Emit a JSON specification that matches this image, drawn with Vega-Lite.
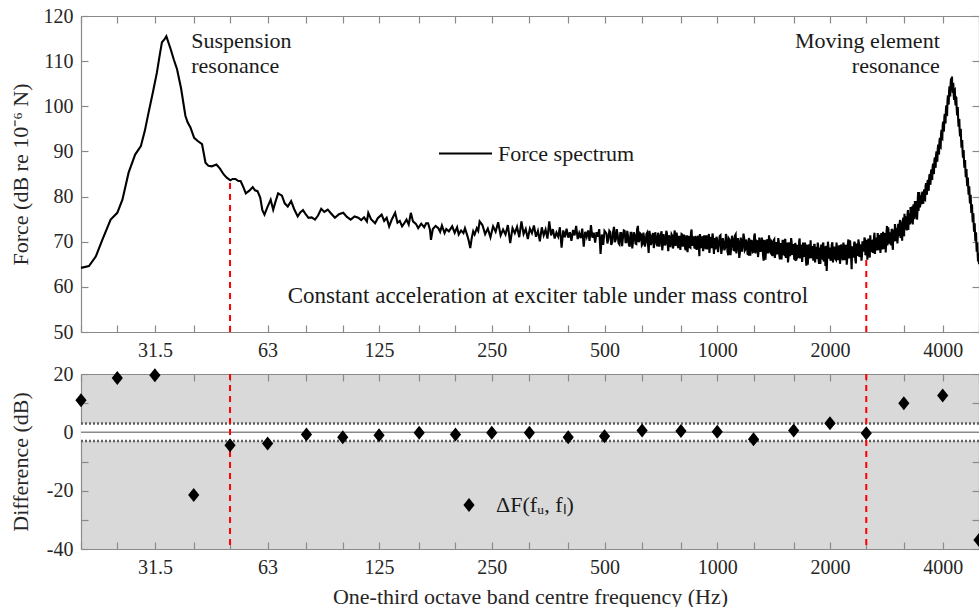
{
  "$schema": "https://vega.github.io/schema/vega-lite/v6.json",
  "padding": {"left": 9, "top": 6, "right": 0, "bottom": 0},
  "spacing": 4,
  "config": {
    "font": "Liberation Serif",
    "view": {"stroke": null},
    "axis": {
      "grid": false,
      "domainColor": "#8a8a8a",
      "tickColor": "#8a8a8a",
      "domainWidth": 1.2,
      "tickWidth": 1.2,
      "tickSize": -7,
      "labelPadding": 15,
      "labelFont": "Liberation Serif",
      "labelFontSize": 20,
      "labelColor": "#262626",
      "titleFont": "Liberation Serif",
      "titleFontSize": 22,
      "titleFontWeight": "normal",
      "titleColor": "#262626",
      "labelOverlap": false,
      "labelBound": false,
      "labelFlush": false
    },
    "legend": {
      "labelFont": "Liberation Serif",
      "labelFontSize": 22,
      "labelColor": "#1a1a1a",
      "padding": 0
    },
    "text": {"font": "Liberation Serif", "fontSize": 22, "color": "#1a1a1a"}
  },
  "datasets": {
    "force": [
      {"f":20,"v":64.2},{"f":21,"v":64.6},{"f":21.9,"v":66.7},{"f":22.8,"v":70.4},{"f":24,"v":74.9},{"f":25,"v":76.4},{"f":25.8,"v":79.3},{"f":26.8,"v":85.3},{"f":27.9,"v":89.3},{"f":28.9,"v":91.2},{"f":29.6,"v":94.5},{"f":30.3,"v":98.6},{"f":31.1,"v":103},{"f":31.9,"v":107.5},{"f":32.4,"v":111},{"f":32.9,"v":114.2},{"f":33.4,"v":114.8},{"f":33.8,"v":115.5},{"f":34.7,"v":112.7},{"f":35.4,"v":110.3},{"f":36.1,"v":108.2},{"f":37,"v":104},{"f":38,"v":97.9},{"f":38.5,"v":96.5},{"f":39.2,"v":95.3},{"f":40.1,"v":93},{"f":41,"v":92.3},{"f":42.1,"v":91.6},{"f":43,"v":87.5},{"f":43.8,"v":86.8},{"f":44.7,"v":86.7},{"f":45.3,"v":86.9},{"f":46,"v":87.1},{"f":47,"v":86.2},{"f":48.1,"v":84.9},{"f":49,"v":84.2},{"f":50.1,"v":83.6},{"f":50.8,"v":83.9},{"f":51.7,"v":83.9},{"f":52.5,"v":83.5},{"f":53.4,"v":83.4},{"f":54.2,"v":82.2},{"f":55.1,"v":80.7},{"f":56.3,"v":81.3},{"f":57.5,"v":82.1},{"f":58.3,"v":81.4},{"f":59.2,"v":81.2},{"f":60.2,"v":79.8},{"f":61,"v":77},{"f":61.8,"v":76},{"f":62.8,"v":77.5},{"f":64.2,"v":79.3},{"f":65.2,"v":77.1},{"f":66.2,"v":79},{"f":67.2,"v":80.7},{"f":68.8,"v":80.2},{"f":70,"v":78.5},{"f":71.3,"v":77.8},{"f":72.8,"v":79},{"f":74.2,"v":77.2},{"f":75.8,"v":75.6},{"f":77,"v":76.5},{"f":78.3,"v":77},{"f":79.6,"v":76.1},{"f":81,"v":75.3},{"f":82.6,"v":75.4},{"f":84.3,"v":74.9},{"f":85.9,"v":75.8},{"f":87.6,"v":77.3},{"f":89.3,"v":76.6},{"f":91.2,"v":77.1},{"f":93.2,"v":76.2},{"f":95.3,"v":75.3},{"f":97.7,"v":76.1},{"f":100.3,"v":76.4},{"f":102.6,"v":75.5},{"f":105,"v":74.9},{"f":107.5,"v":75.6},{"f":110,"v":75.3},{"f":112,"v":74.8},{"f":114,"v":75.4},{"f":116,"v":74.5},{"f":117,"v":76.4},{"f":119,"v":75},{"f":122,"v":74.1},{"f":124,"v":75.2},{"f":127,"v":76},{"f":129,"v":74.6},{"f":131,"v":75.3},{"f":133,"v":73.4},{"f":135,"v":74.8},{"f":138,"v":76.4},{"f":140,"v":74.2},{"f":142,"v":74.6},{"f":144,"v":73.4},{"f":146,"v":74.1},{"f":148,"v":74.9},{"f":150,"v":73.8},{"f":152,"v":76.4},{"f":154,"v":74.5},{"f":157,"v":73.9},{"f":159,"v":73},{"f":162,"v":74},{"f":165,"v":73.2},{"f":167,"v":74.1},{"f":169,"v":74.1},{"f":171,"v":72.6},{"f":172,"v":70.4},{"f":174,"v":72.8},{"f":177,"v":73.5},{"f":180,"v":73},{"f":182,"v":72.2},{"f":184,"v":73.6},{"f":187,"v":71.9},{"f":189,"v":72.8},{"f":192,"v":72.3},{"f":196,"v":73.4},{"f":199,"v":72},{"f":202,"v":73.2},{"f":204,"v":71.6},{"f":207,"v":72.5},{"f":210,"v":71.9},{"f":212,"v":73},{"f":215,"v":71.4},{"f":217,"v":70.2},{"f":219,"v":68.6},{"f":221,"v":70.8},{"f":223,"v":72.3},{"f":225,"v":71.6},{"f":228,"v":73},{"f":230,"v":72.4},{"f":232,"v":74.5},
      {"f":236,"v":73.7},{"f":240,"v":71.7},{"f":244,"v":72.9},{"f":248,"v":71},{"f":252,"v":73.4},{"f":256,"v":72.2},{"f":260,"v":74.3},{"f":264,"v":71.4},{"f":268,"v":72.7},{"f":272,"v":71.6},{"f":276,"v":73.7},{"f":280,"v":69.7},{"f":284,"v":73},{"f":288,"v":71.9},{"f":292,"v":73.3},{"f":296,"v":71},{"f":300,"v":74.5},{"f":304,"v":71.7},{"f":308,"v":72.8},{"f":312,"v":70.6},{"f":316,"v":72.9},{"f":320,"v":71.9},{"f":324,"v":73.6},{"f":328,"v":71.1},{"f":332,"v":72.4},{"f":336,"v":70.1},{"f":340,"v":73.2},{"f":344,"v":71.4},{"f":348,"v":72.7},{"f":352,"v":70.7},{"f":356,"v":74.5},{"f":360,"v":71.4},{"f":364,"v":72.8},{"f":368,"v":70.7},{"f":372,"v":72},{"f":376,"v":71.1},{"f":380,"v":73.2},{"f":384,"v":68.7},{"f":388,"v":72.5},{"f":392,"v":71},{"f":396,"v":72.9},{"f":400,"v":70.9},{"f":404,"v":72.1},{"f":408,"v":70.2},{"f":412,"v":72.6},{"f":416,"v":71.4},{"f":420,"v":73.5},{"f":424,"v":70.6},{"f":428,"v":71.9},{"f":432,"v":70.8},{"f":436,"v":72.9},{"f":440,"v":68.9},{"f":444,"v":72.2},{"f":448,"v":71.1},{"f":452,"v":72.5},{"f":456,"v":70.2},{"f":460,"v":73.7},{"f":464,"v":70.9},{"f":468,"v":72},{"f":472,"v":69.8},{"f":476,"v":72.1},{"f":480,"v":71.1},{"f":484,"v":72.8},{"f":488,"v":67.3},{"f":492,"v":71.6},{"f":496,"v":69.3},{"f":500,"v":72.4},
      {"f":506,"v":71.8},{"f":512,"v":70.7},{"f":518,"v":72.1},{"f":524,"v":69.8},{"f":530,"v":73.3},{"f":536,"v":70.5},{"f":542,"v":71.6},{"f":548,"v":69.4},{"f":554,"v":71.9},{"f":560,"v":70.9},{"f":566,"v":72.4},{"f":572,"v":69.9},{"f":578,"v":71.2},{"f":584,"v":68.9},{"f":590,"v":72},{"f":596,"v":70.2},{"f":602,"v":71.5},{"f":608,"v":69.5},{"f":614,"v":73.5},{"f":620,"v":70.4},{"f":626,"v":71.6},{"f":632,"v":69.5},{"f":638,"v":70.8},{"f":644,"v":69.9},{"f":650,"v":72},{"f":656,"v":67.5},{"f":662,"v":71.3},{"f":668,"v":69.8},{"f":674,"v":71.9},{"f":680,"v":69.9},{"f":686,"v":70.9},{"f":692,"v":69},{"f":698,"v":71.4},{"f":704,"v":70.2},{"f":710,"v":72.3},{"f":716,"v":69.4},{"f":722,"v":70.7},{"f":728,"v":69.6},{"f":734,"v":71.9},{"f":740,"v":67.9},{"f":746,"v":71},{"f":752,"v":69.9},{"f":758,"v":71.3},{"f":764,"v":69},{"f":770,"v":72.5},{"f":776,"v":69.7},{"f":782,"v":70.8},{"f":788,"v":68.6},{"f":794,"v":71.1},{"f":800,"v":70.1},{"f":806,"v":71.6},{"f":812,"v":69.1},{"f":818,"v":70.4},{"f":824,"v":68.1},{"f":830,"v":71.2},{"f":836,"v":69.4},{"f":842,"v":70.7},{"f":848,"v":68.7},{"f":854,"v":72.7},{"f":860,"v":69.6},{"f":866,"v":70.9},{"f":872,"v":68.8},{"f":878,"v":70.1},{"f":884,"v":69.2},{"f":890,"v":71.3},{"f":896,"v":66.8},{"f":902,"v":70.6},{"f":908,"v":69.1},{"f":914,"v":71.2},{"f":920,"v":69.2},{"f":926,"v":70.3},{"f":932,"v":68.4},{"f":938,"v":70.8},{"f":944,"v":69.6},{"f":950,"v":71.7},{"f":956,"v":68.8},{"f":962,"v":70.1},{"f":968,"v":69},{"f":974,"v":71.3},{"f":980,"v":67.3},{"f":986,"v":70.5},{"f":992,"v":69.4},{"f":998,"v":70.8},
      {"f":1010,"v":69.3},{"f":1020,"v":71.4},{"f":1030,"v":68.5},{"f":1040,"v":69.8},{"f":1050,"v":68.7},{"f":1060,"v":71},{"f":1070,"v":67},{"f":1080,"v":70.3},{"f":1090,"v":69.2},{"f":1100,"v":70.6},{"f":1110,"v":68.1},{"f":1120,"v":71.6},{"f":1130,"v":68.8},{"f":1140,"v":69.9},{"f":1150,"v":67.7},{"f":1160,"v":70.2},{"f":1170,"v":69.2},{"f":1180,"v":70.9},{"f":1190,"v":68.4},{"f":1200,"v":69.7},{"f":1210,"v":67.2},{"f":1220,"v":70.3},{"f":1230,"v":68.5},{"f":1240,"v":69.8},{"f":1250,"v":67.8},{"f":1260,"v":71.8},{"f":1270,"v":68.7},{"f":1280,"v":70.1},{"f":1290,"v":68},{"f":1300,"v":69.3},{"f":1310,"v":68.2},{"f":1320,"v":70.3},{"f":1330,"v":65.8},{"f":1340,"v":69.6},{"f":1350,"v":68.1},{"f":1360,"v":70.2},{"f":1370,"v":68.2},{"f":1380,"v":69.4},{"f":1390,"v":67.5},{"f":1400,"v":69.9},{"f":1410,"v":68.4},{"f":1420,"v":70.5},{"f":1430,"v":67.6},{"f":1440,"v":68.9},{"f":1450,"v":67.8},{"f":1460,"v":70.1},{"f":1470,"v":66.1},{"f":1480,"v":69.4},{"f":1490,"v":68.3},{"f":1500,"v":69.7},{"f":1510,"v":67.1},{"f":1520,"v":70.6},{"f":1530,"v":67.8},{"f":1540,"v":68.9},{"f":1550,"v":66.7},{"f":1560,"v":69.2},{"f":1570,"v":68.2},{"f":1580,"v":69.9},{"f":1590,"v":67.4},{"f":1600,"v":68.7},{"f":1610,"v":66.1},{"f":1620,"v":69.2},{"f":1630,"v":67.4},{"f":1640,"v":68.7},{"f":1650,"v":66.7},{"f":1660,"v":70.7},{"f":1670,"v":67.6},{"f":1680,"v":69},{"f":1690,"v":66.9},{"f":1700,"v":68.2},{"f":1710,"v":67.1},{"f":1720,"v":69.2},{"f":1730,"v":64.7},{"f":1740,"v":68.5},{"f":1750,"v":67},{"f":1760,"v":69.1},{"f":1770,"v":67.1},{"f":1780,"v":68.3},{"f":1790,"v":66.4},{"f":1800,"v":68.8},{"f":1810,"v":67.4},{"f":1820,"v":69.5},{"f":1830,"v":66.6},{"f":1840,"v":67.9},{"f":1850,"v":66.8},{"f":1860,"v":69.1},{"f":1870,"v":65.1},{"f":1880,"v":68.4},{"f":1890,"v":67.3},{"f":1900,"v":68.7},{"f":1910,"v":66.3},{"f":1920,"v":69.8},{"f":1930,"v":67},{"f":1940,"v":68.1},{"f":1950,"v":65.9},{"f":1960,"v":63.5},{"f":1970,"v":67.4},{"f":1980,"v":69.1},{"f":1990,"v":66.6},{"f":2000,"v":67.9},
      {"f":2015,"v":66.4},{"f":2030,"v":69.9},{"f":2045,"v":67.1},{"f":2060,"v":68.2},{"f":2075,"v":66},{"f":2090,"v":68.5},{"f":2105,"v":67.5},{"f":2120,"v":69.2},{"f":2135,"v":66.7},{"f":2150,"v":68},{"f":2165,"v":65.9},{"f":2180,"v":69},{"f":2195,"v":67.2},{"f":2210,"v":68.5},{"f":2225,"v":66.5},{"f":2240,"v":70.5},{"f":2255,"v":67.4},{"f":2270,"v":68.8},{"f":2285,"v":63.9},{"f":2300,"v":68},{"f":2315,"v":67.6},{"f":2330,"v":69.7},{"f":2345,"v":65.2},{"f":2360,"v":69},{"f":2375,"v":67.5},{"f":2390,"v":69.6},{"f":2405,"v":67.6},{"f":2420,"v":68.8},{"f":2435,"v":66.9},{"f":2450,"v":69.3},{"f":2465,"v":68.4},{"f":2480,"v":70.6},{"f":2495,"v":67.7},{"f":2510,"v":69.1},{"f":2525,"v":68.2},{"f":2540,"v":70.5},{"f":2555,"v":66.5},{"f":2570,"v":69.9},{"f":2585,"v":68.8},{"f":2600,"v":70.2},{"f":2615,"v":68.3},{"f":2630,"v":72},{"f":2645,"v":69.2},{"f":2660,"v":70.4},{"f":2675,"v":68.3},{"f":2690,"v":70.7},{"f":2705,"v":69.8},{"f":2720,"v":71.5},{"f":2735,"v":69},{"f":2750,"v":70.4},{"f":2765,"v":68.3},{"f":2780,"v":71.5},{"f":2795,"v":69.8},{"f":2810,"v":71.2},{"f":2825,"v":69.4},{"f":2840,"v":73.5},{"f":2855,"v":70.4},{"f":2870,"v":71.8},{"f":2885,"v":69.8},{"f":2900,"v":71.1},{"f":2915,"v":70.4},{"f":2930,"v":72.6},{"f":2945,"v":68.2},{"f":2960,"v":72.1},{"f":2975,"v":71},{"f":2990,"v":73.3},{"f":3005,"v":71.5},{"f":3020,"v":72.7},{"f":3035,"v":70.9},{"f":3050,"v":73},{"f":3065,"v":72.5},{"f":3080,"v":74.8},{"f":3095,"v":72},{"f":3110,"v":73.5},{"f":3125,"v":72.7},{"f":3140,"v":75.3},{"f":3155,"v":71.2},{"f":3170,"v":74.7},{"f":3185,"v":73.7},{"f":3200,"v":75.2},{"f":3215,"v":73.3},{"f":3230,"v":77},{"f":3245,"v":74.6},{"f":3260,"v":76},{"f":3275,"v":74.2},{"f":3290,"v":76.8},{"f":3305,"v":75.9},{"f":3320,"v":77.8},{"f":3335,"v":75.6},{"f":3350,"v":77.2},{"f":3365,"v":75},{"f":3380,"v":78.4},{"f":3395,"v":76.9},{"f":3410,"v":78.4},{"f":3425,"v":76.9},{"f":3440,"v":81},{"f":3455,"v":78},{"f":3470,"v":79.6},{"f":3485,"v":78},{"f":3500,"v":79.3},
      {"f":3520,"v":80.4},{"f":3540,"v":79},{"f":3560,"v":80.9},{"f":3580,"v":79.4},{"f":3600,"v":82.3},{"f":3620,"v":80.9},{"f":3640,"v":83},{"f":3660,"v":81.6},{"f":3680,"v":84.1},{"f":3700,"v":83},{"f":3720,"v":85.3},{"f":3740,"v":83.9},{"f":3760,"v":86.6},{"f":3780,"v":85.2},{"f":3800,"v":87.9},{"f":3820,"v":86.7},{"f":3840,"v":89.2},{"f":3860,"v":88},{"f":3880,"v":90.6},{"f":3900,"v":89.6},{"f":3920,"v":92.2},{"f":3940,"v":91},{"f":3960,"v":93.9},{"f":3980,"v":92.9},{"f":4000,"v":95.8},{"f":4020,"v":94.6},{"f":4040,"v":97.4},{"f":4060,"v":96.4},{"f":4080,"v":99.2},{"f":4100,"v":98.4},{"f":4120,"v":101.3},{"f":4140,"v":100.6},{"f":4160,"v":103.4},{"f":4180,"v":102.5},{"f":4200,"v":105},{"f":4220,"v":104.6},{"f":4235,"v":106.6},{"f":4250,"v":103.5},{"f":4265,"v":105.2},{"f":4280,"v":102.4},{"f":4300,"v":103.6},{"f":4320,"v":101},{"f":4340,"v":102},{"f":4360,"v":99.3},{"f":4380,"v":99.6},{"f":4400,"v":96.8},{"f":4420,"v":97},{"f":4440,"v":94.4},{"f":4460,"v":94.6},{"f":4480,"v":92.3},{"f":4500,"v":92.2},{"f":4520,"v":89.9},{"f":4540,"v":90},{"f":4560,"v":87.8},{"f":4580,"v":87.8},{"f":4600,"v":85.6},{"f":4620,"v":85.8},{"f":4640,"v":83.6},{"f":4660,"v":83.9},{"f":4680,"v":81.7},{"f":4700,"v":82},{"f":4720,"v":79.8},{"f":4740,"v":80.1},{"f":4760,"v":77.9},{"f":4780,"v":78},{"f":4800,"v":75.8},{"f":4820,"v":75.9},{"f":4840,"v":73.8},{"f":4860,"v":73.8},{"f":4880,"v":71.6},{"f":4900,"v":71.7},{"f":4920,"v":69.5},{"f":4940,"v":69.4},{"f":4960,"v":67.2},{"f":4980,"v":67},{"f":5000,"v":65},
      {"f":509,"v":69.6},{"f":515,"v":72.4},{"f":521,"v":69.3},{"f":527,"v":72.1},{"f":533,"v":69.9},{"f":539,"v":72.8},{"f":545,"v":69.7},{"f":551,"v":71.9},{"f":557,"v":69},{"f":563,"v":72.5},
      {"f":569,"v":69.9},{"f":575,"v":72.4},{"f":581,"v":69.3},{"f":587,"v":72},{"f":593,"v":68.5},{"f":599,"v":72.1},{"f":605,"v":69.6},{"f":611,"v":72.8},{"f":617,"v":69.9},{"f":623,"v":71.8},
      {"f":629,"v":69.2},{"f":635,"v":72},{"f":641,"v":68.9},{"f":647,"v":71.7},{"f":653,"v":69.5},{"f":659,"v":72.4},{"f":665,"v":69.3},{"f":671,"v":71.5},{"f":677,"v":68.6},{"f":683,"v":72.1},
      {"f":689,"v":69.5},{"f":695,"v":72},{"f":701,"v":68.9},{"f":707,"v":71.6},{"f":713,"v":68.1},{"f":719,"v":71.7},{"f":725,"v":69.2},{"f":731,"v":72.4},{"f":737,"v":69.5},{"f":743,"v":71.4},
      {"f":749,"v":68.8},{"f":755,"v":71.6},{"f":761,"v":68.5},{"f":767,"v":71.3},{"f":773,"v":69.1},{"f":779,"v":72},{"f":785,"v":68.9},{"f":791,"v":71.1},{"f":797,"v":68.2},{"f":803,"v":71.7},
      {"f":809,"v":69.1},{"f":815,"v":71.6},{"f":821,"v":68.5},{"f":827,"v":71.2},{"f":833,"v":67.7},{"f":839,"v":71.3},{"f":845,"v":68.8},{"f":851,"v":72},{"f":857,"v":69.1},{"f":863,"v":71},
      {"f":869,"v":68.5},{"f":875,"v":71.3},{"f":881,"v":68.2},{"f":887,"v":71},{"f":893,"v":68.8},{"f":899,"v":71.7},{"f":905,"v":68.6},{"f":911,"v":70.8},{"f":917,"v":67.9},{"f":923,"v":71.4},
      {"f":929,"v":68.9},{"f":935,"v":71.4},{"f":941,"v":68.3},{"f":947,"v":71},{"f":953,"v":67.5},{"f":959,"v":71.1},{"f":965,"v":68.6},{"f":971,"v":71.8},{"f":977,"v":68.9},{"f":983,"v":70.8},{"f":989,"v":68.3},{"f":995,"v":71.1},
      {"f":1005,"v":67.7},{"f":1015,"v":71.2},{"f":1025,"v":67.3},{"f":1035,"v":70.8},{"f":1045,"v":68.1},{"f":1055,"v":71.7},{"f":1065,"v":67.8},{"f":1075,"v":70.6},{"f":1085,"v":67},{"f":1095,"v":71.3},
      {"f":1105,"v":68.2},{"f":1115,"v":71.3},{"f":1125,"v":67.4},{"f":1135,"v":70.8},{"f":1145,"v":66.4},{"f":1155,"v":70.9},{"f":1165,"v":67.8},{"f":1175,"v":71.8},{"f":1185,"v":68.1},{"f":1195,"v":70.5},
      {"f":1205,"v":67.3},{"f":1215,"v":70.8},{"f":1225,"v":66.9},{"f":1235,"v":70.4},{"f":1245,"v":67.7},{"f":1255,"v":71.3},{"f":1265,"v":67.4},{"f":1275,"v":70.2},{"f":1285,"v":66.6},{"f":1295,"v":70.9},
      {"f":1305,"v":67.8},{"f":1315,"v":70.9},{"f":1325,"v":67},{"f":1335,"v":70.4},{"f":1345,"v":66},{"f":1355,"v":70.5},{"f":1365,"v":67.4},{"f":1375,"v":71.4},{"f":1385,"v":67.7},{"f":1395,"v":70.1},
      {"f":1405,"v":66.8},{"f":1415,"v":70.3},{"f":1425,"v":66.4},{"f":1435,"v":69.9},{"f":1445,"v":67.2},{"f":1455,"v":70.8},{"f":1465,"v":66.9},{"f":1475,"v":69.7},{"f":1485,"v":66.1},{"f":1495,"v":70.4},
      {"f":1505,"v":67.2},{"f":1515,"v":70.3},{"f":1525,"v":66.4},{"f":1535,"v":69.8},{"f":1545,"v":65.4},{"f":1555,"v":69.9},{"f":1565,"v":66.8},{"f":1575,"v":70.8},{"f":1585,"v":67.1},{"f":1595,"v":69.5},
      {"f":1605,"v":66.2},{"f":1615,"v":69.7},{"f":1625,"v":65.8},{"f":1635,"v":69.3},{"f":1645,"v":66.6},{"f":1655,"v":70.2},{"f":1665,"v":66.3},{"f":1675,"v":69.1},{"f":1685,"v":65.5},{"f":1695,"v":69.8},
      {"f":1705,"v":66.7},{"f":1715,"v":69.8},{"f":1725,"v":65.9},{"f":1735,"v":69.3},{"f":1745,"v":64.9},{"f":1755,"v":69.4},{"f":1765,"v":66.3},{"f":1775,"v":70.3},{"f":1785,"v":66.6},{"f":1795,"v":69},
      {"f":1805,"v":65.8},{"f":1815,"v":69.3},{"f":1825,"v":65.4},{"f":1835,"v":68.9},{"f":1845,"v":66.2},{"f":1855,"v":69.8},{"f":1865,"v":65.9},{"f":1875,"v":68.7},{"f":1885,"v":65.1},{"f":1895,"v":69.4},
      {"f":1905,"v":66.4},{"f":1915,"v":69.5},{"f":1925,"v":65.6},{"f":1935,"v":69},{"f":1945,"v":64.6},{"f":1955,"v":69.1},{"f":1965,"v":66},{"f":1975,"v":70},{"f":1985,"v":66.3},{"f":1995,"v":68.7},
      {"f":2007,"v":65.8},{"f":2022,"v":69.3},{"f":2037,"v":65.4},{"f":2052,"v":68.9},{"f":2067,"v":66.2},{"f":2082,"v":69.8},{"f":2097,"v":65.9},{"f":2112,"v":68.7},{"f":2127,"v":65.1},{"f":2142,"v":69.4},
      {"f":2157,"v":66.7},{"f":2172,"v":69.8},{"f":2187,"v":65.9},{"f":2202,"v":69.3},{"f":2217,"v":64.9},{"f":2232,"v":69.4},{"f":2247,"v":66.3},{"f":2262,"v":70.3},{"f":2277,"v":66.6},{"f":2292,"v":69},
      {"f":2307,"v":66.5},{"f":2322,"v":70},{"f":2337,"v":66.1},{"f":2352,"v":69.6},{"f":2367,"v":66.9},{"f":2382,"v":70.5},{"f":2397,"v":66.6},{"f":2412,"v":69.4},{"f":2427,"v":65.8},{"f":2442,"v":70.1},
      {"f":2457,"v":67.8},{"f":2472,"v":70.9},{"f":2487,"v":67},{"f":2502,"v":70.4},{"f":2517,"v":66},{"f":2532,"v":70.5},{"f":2547,"v":67.4},{"f":2562,"v":71.4},{"f":2577,"v":67.7},{"f":2592,"v":70.1},
      {"f":2607,"v":67.5},{"f":2622,"v":71.1},{"f":2637,"v":67.3},{"f":2652,"v":70.9},{"f":2667,"v":68.3},{"f":2682,"v":71.9},{"f":2697,"v":68.1},{"f":2712,"v":71},{"f":2727,"v":67.5},{"f":2742,"v":71.9},
      {"f":2757,"v":69},{"f":2772,"v":72.2},{"f":2787,"v":68.4},{"f":2802,"v":71.9},{"f":2817,"v":67.6},{"f":2832,"v":72.2},{"f":2847,"v":69.2},{"f":2862,"v":73.2},{"f":2877,"v":69.6},{"f":2892,"v":72.1},
      {"f":2907,"v":69.2},{"f":2922,"v":72.8},{"f":2937,"v":69.1},{"f":2952,"v":72.7},{"f":2967,"v":70.1},{"f":2982,"v":73.9},{"f":2997,"v":70.1},{"f":3012,"v":73},{"f":3027,"v":69.6},{"f":3042,"v":74},
      {"f":3057,"v":71.2},{"f":3072,"v":74.5},{"f":3087,"v":70.8},{"f":3102,"v":74.4},{"f":3117,"v":70.2},{"f":3132,"v":74.9},{"f":3147,"v":72},{"f":3162,"v":76.2},{"f":3177,"v":72.7},{"f":3192,"v":75.3},
      {"f":3207,"v":72.5},{"f":3222,"v":76.2},{"f":3237,"v":72.6},{"f":3252,"v":76.3},{"f":3267,"v":73.9},{"f":3282,"v":77.7},{"f":3297,"v":74.1},{"f":3312,"v":77.1},{"f":3327,"v":73.8},{"f":3342,"v":78.3},
      {"f":3357,"v":75.7},{"f":3372,"v":79},{"f":3387,"v":75.4},{"f":3402,"v":79},{"f":3417,"v":74.9},{"f":3432,"v":79.6},{"f":3447,"v":76.8},{"f":3462,"v":81},{"f":3477,"v":77.6},{"f":3492,"v":80.3},
      {"f":3510,"v":78.3},{"f":3530,"v":81.1},{"f":3550,"v":78.4},{"f":3570,"v":81.6},{"f":3590,"v":79.3},{"f":3610,"v":83},{"f":3630,"v":80.4},{"f":3650,"v":83.7},{"f":3670,"v":81.3},{"f":3690,"v":85},
      {"f":3710,"v":82.6},{"f":3730,"v":86},{"f":3750,"v":83.7},{"f":3770,"v":87.3},{"f":3790,"v":85},{"f":3810,"v":88.7},{"f":3830,"v":86.4},{"f":3850,"v":90},{"f":3870,"v":87.7},{"f":3890,"v":91.5},
      {"f":3910,"v":89.3},{"f":3930,"v":93},{"f":3950,"v":90.9},{"f":3970,"v":94.8},{"f":3990,"v":92.8},{"f":4010,"v":96.6},{"f":4030,"v":94.4},{"f":4050,"v":98.3},{"f":4070,"v":96.2},{"f":4090,"v":100.2},
      {"f":4110,"v":98.3},{"f":4130,"v":102.4},{"f":4150,"v":100.4},{"f":4170,"v":104.4},{"f":4190,"v":102.2},{"f":4210,"v":106.2},{"f":4228,"v":104},{"f":4242,"v":104.2},{"f":4258,"v":103},{"f":4272,"v":104.8},
      {"f":4290,"v":101.4},{"f":4310,"v":103.7},{"f":4330,"v":100.2},{"f":4350,"v":101.9},{"f":4370,"v":98},{"f":4390,"v":99.6},{"f":4410,"v":95.5},{"f":4430,"v":97.2},{"f":4450,"v":93.3},{"f":4470,"v":95},
      {"f":4490,"v":90.8},{"f":4510,"v":92.5},{"f":4530,"v":88.6},{"f":4550,"v":90.3},{"f":4570,"v":86.4},{"f":4590,"v":88.1},{"f":4610,"v":84.3},{"f":4630,"v":86.1},{"f":4650,"v":82.3},{"f":4670,"v":84.2},
      {"f":4690,"v":80.4},{"f":4710,"v":82.3},{"f":4730,"v":78.5},{"f":4750,"v":80.4},{"f":4770,"v":76.4},{"f":4790,"v":78.3},{"f":4810,"v":74.3},{"f":4830,"v":76.3},{"f":4850,"v":72.2},{"f":4870,"v":74.1},
      {"f":4890,"v":70.1},{"f":4910,"v":72.1},{"f":4930,"v":67.8},{"f":4950,"v":69.7},{"f":4970,"v":65.6},{"f":4990,"v":67.5}
    ],
    "limits": [{"f":50,"lo":50,"hi":83.6},{"f":2500,"lo":50,"hi":69.3}],
    "notes": [
      {"f":39.4,"v":112.9,"t":"Suspension","side":"left"},
      {"f":39.4,"v":107.3,"t":"resonance","side":"left"},
      {"f":3928,"v":112.9,"t":"Moving element","side":"right"},
      {"f":3928,"v":107.3,"t":"resonance","side":"right"},
      {"f":353,"v":56.4,"t":"Constant acceleration at exciter table under mass control","side":"center"}
    ],
    "dev": [
      {"f":20,"d":11},{"f":25,"d":18.6},{"f":31.5,"d":19.6},{"f":40,"d":-21.5},{"f":50,"d":-4.4},{"f":63,"d":-3.8},{"f":80,"d":-0.7},{"f":100,"d":-1.7},{"f":125,"d":-1.0},{"f":160,"d":-0.1},{"f":200,"d":-0.7},{"f":250,"d":-0.1},{"f":315,"d":-0.1},{"f":400,"d":-1.7},{"f":500,"d":-1.3},{"f":630,"d":0.6},{"f":800,"d":0.5},{"f":1000,"d":0.2},{"f":1250,"d":-2.4},{"f":1600,"d":0.6},{"f":2000,"d":3.1},{"f":2500,"d":-0.3},{"f":3150,"d":10},{"f":4000,"d":12.6},{"f":5000,"d":-36.9}
    ],
    "band": [{"lo":20,"hi":5000,"b":-3,"t":3}],
    "levels": [{"y":3,"k":"tol"},{"y":-3,"k":"tol"},{"y":0,"k":"zero"}],
    "cuts": [{"f":50},{"f":2500}]
  },
  "resolve": {
    "scale": {"color": "independent", "shape": "independent"},
    "legend": {"color": "independent", "shape": "independent"}
  },
  "vconcat": [
    {
      "width": 898,
      "height": 316,
      "layer": [
        {
          "data": {"name": "limits"},
          "mark": {"type": "rule", "color": "#ff0000", "strokeWidth": 2, "strokeDash": [6, 5]},
          "encoding": {
            "x": {"field": "f", "type": "quantitative", "scale": {"type": "log", "domain": [20, 5000], "nice": false},
              "axis": {"orient": "top", "labels": false, "title": null, "values": [20,25,31.5,40,50,63,80,100,125,160,200,250,315,400,500,630,800,1000,1250,1600,2000,2500,3150,4000,5000], "minExtent": 0, "maxExtent": 0}},
            "y": {"field": "lo", "type": "quantitative", "scale": {"domain": [50, 120], "nice": false},
              "axis": {"orient": "right", "labels": false, "title": null, "values": [50,60,70,80,90,100,110,120], "minExtent": 0, "maxExtent": 0}},
            "y2": {"field": "hi"}
          }
        },
        {
          "data": {"name": "force"},
          "mark": {"type": "line", "strokeWidth": 2.1, "interpolate": "linear"},
          "encoding": {
            "x": {"field": "f", "type": "quantitative", "scale": {"type": "log", "domain": [20, 5000], "nice": false},
              "axis": {"orient": "bottom", "title": null, "values": [20,25,31.5,40,50,63,80,100,125,160,200,250,315,400,500,630,800,1000,1250,1600,2000,2500,3150,4000,5000],
                "labelExpr": "indexof([31.5,63,125,250,500,1000,2000,4000], datum.value) >= 0 ? '' + datum.value : ''"}},
            "y": {"field": "v", "type": "quantitative", "scale": {"domain": [50, 120], "nice": false},
              "axis": {"orient": "left", "title": "Force (dB re 10⁻⁶ N)", "values": [50,60,70,80,90,100,110,120], "minExtent": 40, "maxExtent": 40, "titlePadding": 9}},
            "color": {"datum": "Force spectrum", "scale": {"range": ["black"]},
              "legend": {"title": null, "orient": "none", "legendX": 357, "legendY": 110, "symbolType": "stroke", "symbolSize": 2809, "symbolStrokeWidth": 1.8, "symbolStrokeColor": "black", "labelOffset": 5}}
          }
        },
        {
          "data": {"name": "notes"},
          "transform": [{"filter": "datum.side === 'left'"}],
          "mark": {"type": "text", "align": "left", "baseline": "alphabetic"},
          "encoding": {
            "x": {"field": "f", "type": "quantitative", "axis": null},
            "y": {"field": "v", "type": "quantitative", "axis": null},
            "text": {"field": "t"}
          }
        },
        {
          "data": {"name": "notes"},
          "transform": [{"filter": "datum.side === 'right'"}],
          "mark": {"type": "text", "align": "right", "baseline": "alphabetic"},
          "encoding": {
            "x": {"field": "f", "type": "quantitative", "axis": null},
            "y": {"field": "v", "type": "quantitative", "axis": null},
            "text": {"field": "t"}
          }
        },
        {
          "data": {"name": "notes"},
          "transform": [{"filter": "datum.side === 'center'"}],
          "mark": {"type": "text", "align": "center", "baseline": "alphabetic", "fontSize": 23},
          "encoding": {
            "x": {"field": "f", "type": "quantitative", "axis": null},
            "y": {"field": "v", "type": "quantitative", "axis": null},
            "text": {"field": "t"}
          }
        }
      ]
    },
    {
      "width": 898,
      "height": 175,
      "view": {"fill": "#d9d9d9", "stroke": null},
      "layer": [
        {
          "data": {"name": "band"},
          "mark": {"type": "rect", "color": "white"},
          "encoding": {
            "x": {"field": "lo", "type": "quantitative", "scale": {"type": "log", "domain": [20, 5000], "nice": false}, "axis": null},
            "x2": {"field": "hi"},
            "y": {"field": "b", "type": "quantitative", "scale": {"domain": [-40, 20], "nice": false}, "axis": null},
            "y2": {"field": "t"}
          }
        },
        {
          "data": {"name": "levels"},
          "transform": [{"filter": "datum.k === 'tol'"}],
          "mark": {"type": "rule", "color": "#5e5e5e", "strokeWidth": 2.5, "strokeDash": [2, 2]},
          "encoding": {
            "y": {"field": "y", "type": "quantitative",
              "axis": {"orient": "right", "labels": false, "title": null, "values": [-40,-30,-20,-10,0,10,20], "minExtent": 0, "maxExtent": 0}}
          }
        },
        {
          "data": {"name": "levels"},
          "transform": [{"filter": "datum.k === 'zero'"}],
          "mark": {"type": "rule", "color": "#8a8a8a", "strokeWidth": 1.5},
          "encoding": {
            "y": {"field": "y", "type": "quantitative", "axis": null}
          }
        },
        {
          "data": {"name": "cuts"},
          "mark": {"type": "rule", "color": "#ff0000", "strokeWidth": 2, "strokeDash": [6, 5]},
          "encoding": {
            "x": {"field": "f", "type": "quantitative",
              "axis": {"orient": "top", "labels": false, "title": null, "values": [20,25,31.5,40,50,63,80,100,125,160,200,250,315,400,500,630,800,1000,1250,1600,2000,2500,3150,4000,5000], "minExtent": 0, "maxExtent": 0}}
          }
        },
        {
          "data": {"name": "dev"},
          "mark": {"type": "point", "filled": true, "color": "black", "opacity": 1, "size": 196},
          "encoding": {
            "x": {"field": "f", "type": "quantitative",
              "axis": {"orient": "bottom", "title": "One-third octave band centre frequency (Hz)", "titlePadding": 9, "values": [20,25,31.5,40,50,63,80,100,125,160,200,250,315,400,500,630,800,1000,1250,1600,2000,2500,3150,4000,5000],
                "labelExpr": "indexof([31.5,63,125,250,500,1000,2000,4000], datum.value) >= 0 ? '' + datum.value : ''"}},
            "y": {"field": "d", "type": "quantitative",
              "axis": {"orient": "left", "title": "Difference (dB)", "values": [-40,-30,-20,-10,0,10,20], "minExtent": 40, "maxExtent": 40, "titlePadding": 9,
                "labelExpr": "datum.value % 20 === 0 ? '' + datum.value : ''"}},
            "shape": {"datum": "ΔF(fᵤ, fₗ)", "scale": {"range": ["M0,-1L0.8,0L0,1L-0.8,0Z"]},
              "legend": {"title": null, "orient": "none", "legendX": 377, "legendY": 120, "symbolSize": 196, "symbolFillColor": "black", "symbolStrokeColor": "black", "symbolStrokeWidth": 0, "symbolOpacity": 1, "labelOffset": 16}}
          }
        }
      ]
    }
  ]
}
